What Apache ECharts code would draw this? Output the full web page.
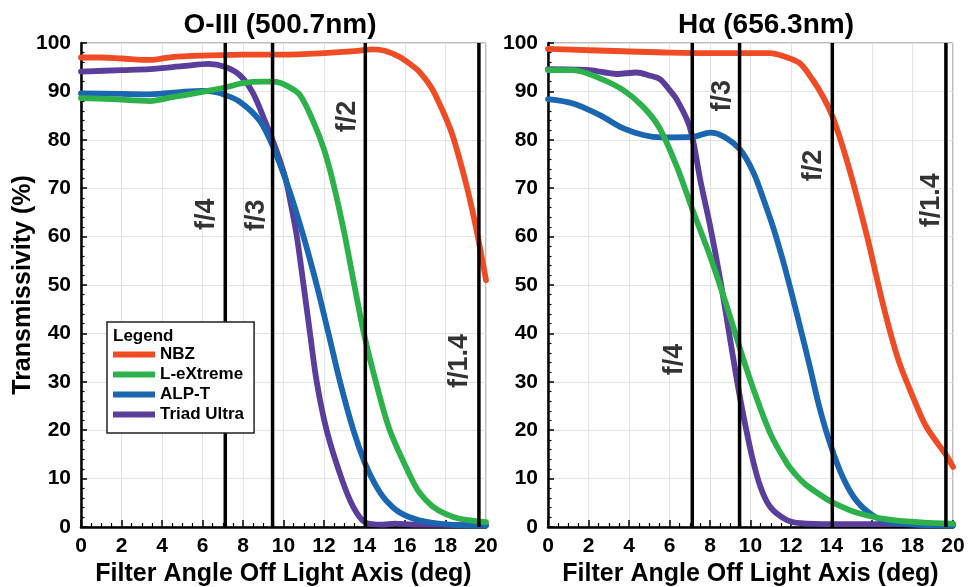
<!DOCTYPE html>
<html><head><meta charset="utf-8">
<script src="https://cdn.jsdelivr.net/npm/echarts@6/dist/echarts.min.js"></script>
<style>html,body{margin:0;padding:0;background:#fff}#c{width:977px;height:587px}</style>
</head><body><div id="c"></div>
<script>
// ---- data ----
const seriesNames = ['NBZ', 'L-eXtreme', 'ALP-T', 'Triad Ultra'];
const panelTitles = ['O-III (500.7nm)', 'H\u03b1 (656.3nm)'];
const xTicks = [0, 2, 4, 6, 8, 10, 12, 14, 16, 18, 20];
const yTicks = [0, 10, 20, 30, 40, 50, 60, 70, 80, 90, 100];
const fLabels = ['f/4', 'f/3', 'f/2', 'f/1.4'];
const fAngles = [7.125, 9.46, 14.04, 19.65];

const oiiiNBZ = [[0,97.0],[1,97.0],[2,96.8],[3.4,96.5],[4.5,97.1],[6,97.4],[8,97.6],[10,97.6],[12,97.9],[13.5,98.3],[14.4,98.7],[15,98.4],[15.7,97.2],[16.3,95.5],[16.7,94.1],[17.3,90.8],[17.85,86.1],[18.3,81.5],[18.7,75.9],[19.1,69.5],[19.5,62],[19.8,55.5],[20,51]];
const oiiiLX = [[0,88.6],[1.5,88.4],[3.4,88.0],[4.5,88.8],[6,89.9],[7.1,90.8],[8,91.7],[9,92.0],[9.5,92.0],[10.1,91.3],[10.8,89.3],[11.5,83.5],[12.0,78],[12.46,71],[12.99,61],[13.45,51],[13.97,40],[14.56,30],[15.25,20],[16.32,10],[16.73,7],[17.35,4.3],[18,2.7],[18.7,1.7],[20,1.0]];
const oiiiALP = [[0,89.6],[2,89.5],[3.4,89.4],[5,89.9],[6,90.1],[6.6,89.9],[7.1,89.3],[7.83,87.9],[8.8,84.1],[9.44,79.0],[10.25,70],[10.99,60],[11.64,50],[12.22,40],[12.79,30],[13.45,20],[14.02,13.2],[14.5,9.0],[15.0,5.8],[15.7,3.1],[16.7,1.4],[18.2,0.5],[20,0.3]];
const oiiiTriad = [[0,94.1],[2,94.4],[3.4,94.6],[5,95.2],[6.3,95.7],[7.1,95.1],[7.83,93.4],[8.5,89.6],[9.13,83.4],[9.64,77.9],[10.1,72],[10.35,67],[10.66,60],[10.99,50],[11.31,40],[11.64,30],[12.13,20],[12.87,10],[13.45,4.1],[14.02,1.0],[14.9,0.5],[15.5,0.7],[16.5,0.5],[20,0.4]];

const haNBZ = [[0,98.8],[2.06,98.5],[3.7,98.3],[6,98.0],[8.66,97.9],[10.96,97.9],[11.6,97.3],[12.41,95.9],[13.07,92.4],[13.57,89.0],[13.98,85.5],[14.39,80.7],[14.89,73.8],[15.38,66.2],[15.88,57.9],[16.37,49.0],[16.87,40.7],[17.36,33.8],[18.02,26.9],[18.68,20.7],[19.67,14.8],[20,12.4]];
const haLX = [[0,94.4],[1.24,94.4],[2.56,92.7],[3.7,90.3],[4.7,86.8],[5.5,82.5],[6.36,74.5],[7.14,65.5],[8.01,55.9],[8.84,45.5],[9.5,36.6],[10.16,28.3],[10.98,19.3],[11.81,13.1],[12.3,10.5],[12.74,8.7],[13.6,6.2],[14.0,5.2],[15.22,3.0],[16.87,1.5],[18.55,0.9],[20,0.7]];
const haALP = [[0,88.4],[1.24,87.5],[2.56,85.1],[3.7,82.4],[4.7,81.0],[5.6,80.5],[7.14,80.6],[8.01,81.5],[8.67,80.7],[9.5,77.9],[10.16,73.1],[10.65,67.6],[11.15,61.5],[11.64,54.5],[12.14,46.5],[12.41,42],[12.91,33.5],[13.4,24.8],[13.98,16.6],[14.56,10.3],[15.22,5.5],[16.04,2.4],[16.87,1.0],[18.02,0.5],[20,0.3]];
const haTriad = [[0,94.6],[2.06,94.4],[3.4,93.6],[4.37,93.9],[5.0,93.3],[5.54,92.5],[6.0,90.3],[6.36,88.3],[6.94,83.4],[7.19,79.3],[7.52,71.7],[8.01,62.1],[8.51,51.0],[8.92,40.7],[9.33,30.3],[9.66,22.8],[10.08,14.5],[10.49,8.3],[10.98,4.1],[11.81,1.4],[12.47,0.8],[14,0.6],[20,0.6]];

// ---- styling / layout ----
const FONT = '"Liberation Sans", Arial, Helvetica, sans-serif';
const colors = { 'NBZ': '#EF4B24', 'L-eXtreme': '#2DB14B', 'ALP-T': '#1B66B0', 'Triad Ultra': '#5A3E9B' };
const panelData = [
  { 'NBZ': oiiiNBZ, 'L-eXtreme': oiiiLX, 'ALP-T': oiiiALP, 'Triad Ultra': oiiiTriad },
  { 'NBZ': haNBZ, 'L-eXtreme': haLX, 'ALP-T': haALP, 'Triad Ultra': haTriad }
];
// label anchor points (axis units) for the rotated f-number captions
const labelAnchors = [
  [[6.2, 64.6], [8.65, 64.4], [13.17, 84.8], [18.67, 34.3]],
  [[6.27, 34.6], [8.62, 89.1], [13.1, 74.7], [18.96, 67.5]]
];
const gridLefts = [81, 548];
const titleX = [280, 766];
const drawOrder = ['Triad Ultra', 'ALP-T', 'L-eXtreme', 'NBZ'];

const grids = gridLefts.map(l => ({
  left: l, top: 43, width: 405, height: 484, show: true, outerBoundsMode: 'none', containLabel: false,
  borderColor: '#777', borderWidth: 1, backgroundColor: 'transparent'
}));

const xAxes = [0, 1].map(i => ({
  type: 'value', gridIndex: i, min: xTicks[0], max: xTicks[xTicks.length - 1], interval: xTicks[1] - xTicks[0],
  axisLine: { show: true, onZero: false, lineStyle: { color: '#000', width: 2.5 } },
  axisTick: { show: true, inside: true, length: 7, lineStyle: { color: '#000', width: 1.5 } },
  minorTick: { show: true, splitNumber: 4, length: 4, lineStyle: { color: '#000', width: 1.2 } },
  splitLine: { show: true, lineStyle: { color: '#e2e2e2', width: 1 } },
  axisLabel: { color: '#000', fontSize: 21, fontWeight: 'bold', fontFamily: FONT, margin: 9 },
  name: 'Filter Angle Off Light Axis (deg)', nameLocation: 'middle', nameGap: 35, nameMoveOverlap: false,
  nameTextStyle: { color: '#000', fontSize: 25, fontWeight: 'bold', fontFamily: FONT }
}));

const yAxes = [0, 1].map(i => ({
  type: 'value', gridIndex: i, min: yTicks[0], max: yTicks[yTicks.length - 1], interval: yTicks[1] - yTicks[0],
  axisLine: { show: true, onZero: false, lineStyle: { color: '#000', width: 2.5 } },
  axisTick: { show: true, inside: true, length: 6, lineStyle: { color: '#000', width: 1.5 } },
  minorTick: { show: true, splitNumber: 5, length: 3.5, lineStyle: { color: '#000', width: 1.2 } },
  splitLine: { show: true, lineStyle: { color: '#e2e2e2', width: 1 } },
  axisLabel: { color: '#000', fontSize: 21, fontWeight: 'bold', fontFamily: FONT, margin: 10 },
  name: i === 0 ? 'Transmissivity (%)' : '', nameLocation: 'middle', nameRotate: 90, nameGap: 45, nameMoveOverlap: false,
  nameTextStyle: { color: '#000', fontSize: 25, fontWeight: 'bold', fontFamily: FONT }
}));

const series = [];
[0, 1].forEach(p => {
  drawOrder.forEach(name => {
    series.push({
      type: 'line', name: name, xAxisIndex: p, yAxisIndex: p,
      data: panelData[p][name], showSymbol: false, symbol: 'none',
      smooth: 0.3, clip: true,
      lineStyle: { color: colors[name], width: 5.8, cap: 'round', join: 'round' },
      itemStyle: { color: colors[name] }, z: 3, silent: true
    });
  });
  fAngles.forEach(a => {
    series.push({
      type: 'line', xAxisIndex: p, yAxisIndex: p,
      data: [[a, yTicks[0]], [a, yTicks[yTicks.length - 1]]],
      symbol: 'none', lineStyle: { color: '#000', width: 3.5 }, z: 5, silent: true
    });
  });
  series.push({
    type: 'scatter', xAxisIndex: p, yAxisIndex: p, symbolSize: 1,
    itemStyle: { color: 'rgba(0,0,0,0)' }, z: 6, silent: true,
    data: fLabels.map((t, k) => ({ name: t, value: labelAnchors[p][k] })),
    label: { show: true, formatter: '{b}', position: 'inside', rotate: 90,
      fontSize: 27, fontWeight: 'bold', color: '#000', fontFamily: FONT }
  });
});

const option = {
  animation: false,
  backgroundColor: '#fff',
  textStyle: { fontFamily: FONT },
  grid: grids, xAxis: xAxes, yAxis: yAxes, series: series,
  legend: {
    data: seriesNames, orient: 'vertical', left: 107, top: 322,
    padding: [24, 10, 10, 6], itemGap: 3, itemWidth: 42, itemHeight: 6, icon: 'rect',
    textStyle: { fontSize: 17, fontWeight: 'bold', color: '#000', fontFamily: FONT },
    borderColor: '#222', borderWidth: 1.5, backgroundColor: '#fff', selectedMode: false, z: 10
  },
  graphic: [
    { type: 'text', x: titleX[0], y: 25, z: 20,
      style: { text: panelTitles[0], font: 'bold 28px ' + FONT, fill: '#000', align: 'center', verticalAlign: 'middle', textAlign: 'center', textVerticalAlign: 'middle' } },
    { type: 'text', x: titleX[1], y: 25, z: 20,
      style: { text: panelTitles[1], font: 'bold 28px ' + FONT, fill: '#000', align: 'center', verticalAlign: 'middle', textAlign: 'center', textVerticalAlign: 'middle' } },
    { type: 'text', x: 113, y: 336, z: 20,
      style: { text: 'Legend', font: 'bold 17px ' + FONT, fill: '#000', align: 'left', verticalAlign: 'middle', textAlign: 'left', textVerticalAlign: 'middle' } }
  ]
};
const chart = echarts.init(document.getElementById('c'), null, { renderer: 'canvas' });
chart.setOption(option);
</script></body></html>
